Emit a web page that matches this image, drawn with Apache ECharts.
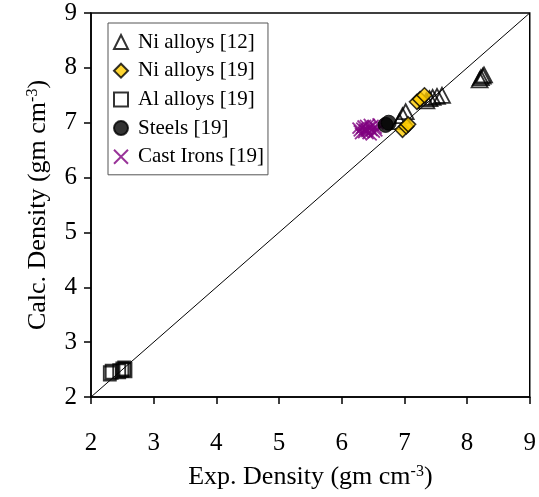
<!DOCTYPE html>
<html>
<head>
<meta charset="utf-8">
<script src="https://cdn.jsdelivr.net/npm/echarts@6/dist/echarts.min.js"></script>
<style>html,body{margin:0;padding:0;background:#fff}#c{width:539px;height:497px}</style>
</head>
<body>
<div id="c"></div>
<script>
var seriesNames = ['Ni alloys [12]', 'Ni alloys [19]', 'Al alloys [19]', 'Steels [19]', 'Cast Irons [19]'];
var niAlloys12 = [[6.97,7.13],[7.02,7.2],[6.92,7.02],[7.35,7.4],[7.4,7.44],[7.45,7.46],[7.52,7.48],[7.6,7.5],[8.2,7.78],[8.22,7.82],[8.25,7.85],[8.27,7.87]];
var niAlloys19 = [[7.2,7.38],[7.25,7.43],[7.32,7.5],[6.97,6.87],[7.03,6.93],[7.06,6.97]];
var alAlloys19 = [[2.3,2.43],[2.33,2.46],[2.45,2.47],[2.5,2.5],[2.53,2.52],[2.55,2.49]];
var steels19 = [[6.7,6.96],[6.75,7.0]];
var castIrons19 = [[6.28,6.85],[6.32,6.9],[6.35,6.82],[6.38,6.95],[6.4,6.88],[6.42,6.8],[6.45,6.92],[6.48,6.86],[6.5,6.95],[6.52,6.83],[6.55,6.9],[6.36,6.87],[6.44,6.97],[6.3,6.8],[6.58,6.98],[6.26,6.9],[6.34,6.94],[6.47,6.78],[6.56,6.85],[6.4,6.84]];
var parityLine = [[2,2],[9,9]];
var axisMin = 2, axisMax = 9, axisStep = 1;

var FONT = '"Liberation Serif", "Times New Roman", serif';
var chart = echarts.init(document.getElementById('c'));
var nameRich = {
  base: {fontFamily: FONT, fontSize: 26, color: '#000'},
  sup: {fontFamily: FONT, fontSize: 16, color: '#000', verticalAlign: 'top', padding: [0,0,10,0]}
};
function axisCommon() {
  return {
    type: 'value', min: axisMin, max: axisMax, interval: axisStep,
    nameLocation: 'middle',
    axisLine: {show: true, onZero: false, lineStyle: {color: '#000', width: 1.5}},
    axisTick: {show: true, inside: false, length: 7, lineStyle: {color: '#000', width: 1.5}},
    axisLabel: {fontFamily: FONT, fontSize: 25, color: '#000'},
    splitLine: {show: false}
  };
}
var xAxis = axisCommon();
xAxis.name = '{base|Exp. Density (gm cm}{sup|-3}{base|)}';
xAxis.nameGap = 67;
xAxis.nameTextStyle = {rich: nameRich};
xAxis.axisLabel.margin = 34;
var yAxis = axisCommon();
yAxis.name = '{base|Calc. Density (gm cm}{sup|-3}{base|)}';
yAxis.nameGap = 40;
yAxis.nameTextStyle = {rich: nameRich};
yAxis.axisLabel.margin = 14;

var X_PATH = 'path://M0,0L10,10M10,0L0,10';
chart.setOption({
  animation: false,
  backgroundColor: '#fff',
  grid: {left: 91, right: 8, top: 13, bottom: 100, show: true, borderColor: '#000', borderWidth: 1.5, backgroundColor: 'transparent'},
  xAxis: xAxis,
  yAxis: yAxis,
  legend: {
    data: seriesNames,
    orient: 'vertical', left: 108, top: 23,
    padding: [8, 4, 7, 5],
    itemWidth: 14, itemHeight: 14, itemGap: 6.7,
    borderColor: '#555', borderWidth: 1,
    backgroundColor: '#fff',
    formatter: function (n) { return '{t|' + n + '}'; },
    textStyle: {fontFamily: FONT, fontSize: 21, color: '#000', lineHeight: 22,
      rich: {t: {fontFamily: FONT, fontSize: 21, color: '#000', lineHeight: 22, padding: [0, 0, 0, 5]}}}
  },
  series: [
    {type: 'line', data: parityLine, showSymbol: false, symbol: 'none', silent: true,
     lineStyle: {color: '#000', width: 1}, z: 1},
    {name: seriesNames[0], type: 'scatter', data: niAlloys12, symbol: 'triangle', symbolSize: [16, 15],
     itemStyle: {color: 'transparent', borderColor: '#000', borderWidth: 1.8}, z: 3},
    {name: seriesNames[1], type: 'scatter', data: niAlloys19, symbol: 'diamond', symbolSize: 15,
     itemStyle: {color: '#FFCC00', borderColor: '#000', borderWidth: 1.5}, z: 4},
    {name: seriesNames[2], type: 'scatter', data: alAlloys19, symbol: 'rect', symbolSize: [12, 14],
     itemStyle: {color: 'transparent', borderColor: '#000', borderWidth: 2}, z: 3},
    {name: seriesNames[3], type: 'scatter', data: steels19, symbol: 'circle', symbolSize: 15,
     itemStyle: {color: '#000', borderColor: '#000', borderWidth: 1}, z: 3},
    {name: seriesNames[4], type: 'scatter', data: castIrons19, symbol: X_PATH, symbolSize: 11,
     itemStyle: {color: 'transparent', borderColor: '#800080', borderWidth: 1.8}, z: 2}
  ]
});
</script>
</body>
</html>
